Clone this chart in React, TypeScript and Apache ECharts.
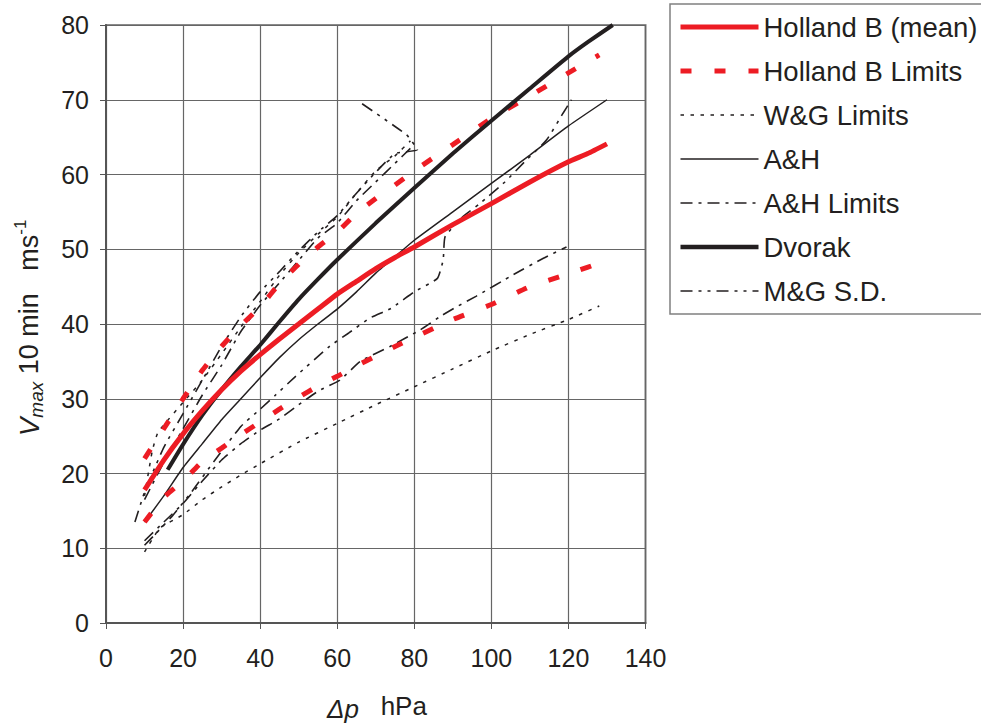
import React, { useEffect, useRef } from 'react';
import * as echarts from 'echarts';

// ---------- data (Δp hPa, Vmax m/s) ----------
const hollandMean: number[][] = [
  [10, 17.8], [15, 21.8], [20, 25.3], [25, 28.4], [30, 31.2], [35, 33.7], [40, 35.9],
  [45, 38], [50, 40], [55, 42], [60, 44], [65, 45.7], [70, 47.4], [75, 48.9], [80, 50.3],
  [90, 53.3], [100, 56.1], [110, 59], [120, 61.7], [125, 62.8], [130, 64.1],
];
const hollandUpper: number[][] = [
  [10, 22], [15, 26], [20, 30], [25, 33.8], [30, 37], [35, 39.8], [40, 42.3], [45, 45.4],
  [50, 48], [55, 50.3], [60, 52.3], [65, 54.8], [70, 56.8], [75, 58.6], [80, 60.5],
  [90, 64], [100, 67.5], [110, 70.5], [120, 73.6], [128, 76],
];
const hollandLower: number[][] = [
  [10, 13.5], [15, 16.8], [20, 19], [25, 21.6], [30, 23.4], [35, 25.2], [40, 26.9],
  [45, 28.6], [50, 30.2], [55, 31.7], [60, 33], [65, 34.4], [70, 35.7], [75, 37], [80, 38.2],
  [90, 40.6], [100, 42.6], [110, 45], [120, 46.7], [130, 48.5],
];
const wgUpper: number[][] = [
  [10, 17], [12, 23], [13.5, 25.5], [20, 29.5], [25, 32.5], [30, 36], [35, 39.6], [40, 43],
  [45, 46.5], [50, 49.5], [55, 52], [60, 54.3], [65, 57.5], [70, 60.5], [75, 62.5], [79, 64.5],
];
const wgLower: number[][] = [
  [10, 9.5], [14, 12.7], [20, 14.5], [25, 16.5], [30, 18.2], [35, 19.8], [40, 21.3],
  [50, 24.2], [60, 26.7], [70, 29.2], [80, 31.6], [90, 34], [100, 36.4], [110, 38.6],
  [120, 40.6], [128, 42.4],
];
const ahMean: number[][] = [
  [10, 13.5], [15, 17], [20, 20.8], [25, 24], [30, 27.2], [35, 30], [40, 32.8], [45, 35.5],
  [50, 37.9], [55, 40], [60, 42], [65, 44.3], [70, 46.8], [75, 49], [80, 51.2], [90, 55],
  [100, 58.8], [110, 62.6], [120, 66.5], [130, 70],
];
const ahUpper: number[][] = [
  [10, 16.5], [15, 21.5], [20, 26], [25, 30.5], [30, 34.5], [35, 39], [40, 42.5], [45, 45.5],
  [50, 48.5], [55, 51.5], [60, 53.5], [65, 56.5], [70, 59], [75, 61.5], [79, 63.5],
];
const ahLower: number[][] = [
  [10, 11], [15, 13.5], [20, 16], [25, 19], [30, 21.8], [35, 24], [40, 25.8], [45, 27.3],
  [50, 29.2], [55, 31], [60.7, 32.5], [66, 35], [73.7, 37], [81.5, 39.2], [87, 41.1],
  [91, 42.3], [96, 43.7], [105.7, 46.6], [113.5, 48.8], [119.5, 50.3],
];
const dvorak: number[][] = [
  [16, 20.5], [20, 23.9], [25, 27.8], [30, 31.2], [35, 34.3], [40, 37.2], [45, 40.3],
  [50, 43.3], [55, 46], [60, 48.6], [70, 53.5], [80, 58.2], [90, 62.8], [100, 67.2],
  [110, 71.5], [120, 75.8], [125, 77.7], [131.5, 80],
];
const mgUpper: number[][] = [
  [7.5, 13.5], [10, 17.5], [15, 23.5], [20, 28], [25, 32.5], [30, 37], [35, 41], [40, 44.3],
  [45, 47], [50, 49.8], [55, 52.3], [60, 54.5], [65, 57.5], [70, 60.3], [75, 62.8],
  [80.8, 63.3], [78, 65.3], [65.5, 69.8],
];
const mgLower: number[][] = [
  [10, 10.4], [13, 12], [17, 14.2], [22, 17.4], [28, 21.6], [35, 26.3], [40, 28.6], [44, 30.5],
  [49, 32.9], [58, 37], [63, 38.8], [68.5, 40.8], [74, 42.1], [80, 44.3], [86, 46.1],
  [87.5, 48.6], [88, 51.7], [92.7, 54.4], [97, 56.1], [103.5, 59], [109, 61.9],
  [114.3, 64.6], [118.6, 68.2], [120.8, 70],
];

const legendNames = [
  'Holland B (mean)', 'Holland B Limits', 'W&G Limits', 'A&H', 'A&H Limits', 'Dvorak', 'M&G S.D.',
];

const RED = '#ed1c24';
const BLK = '#231f20';
const FONT = '"Liberation Sans", Arial, sans-serif';

const hbDash = [11, 23];
const wgDash = [3.5, 6.5];
const ahDash = [12, 6, 3, 6];
const mgDash = [12, 6, 3, 6, 3, 6];

const legendStyles: Record<string, any> = {
  'Holland B (mean)': { color: RED, width: 5, type: 'solid' },
  'Holland B Limits': { color: RED, width: 5, type: hbDash },
  'W&G Limits': { color: BLK, width: 1.5, type: wgDash },
  'A&H': { color: BLK, width: 1.6, type: 'solid' },
  'A&H Limits': { color: BLK, width: 1.6, type: ahDash },
  'Dvorak': { color: BLK, width: 4.5, type: 'solid' },
  'M&G S.D.': { color: BLK, width: 1.6, type: mgDash },
};

function mk(name: string, data: number[][], color: string, width: number, type: any) {
  return {
    name,
    type: 'line',
    data,
    symbol: 'none',
    showSymbol: false,
    smooth: 0.15,
    lineStyle: { color, width, type },
    itemStyle: { color },
    z: 3,
  };
}

export default function App() {
  const ref = useRef<HTMLDivElement>(null);
  useEffect(() => {
    document.body.style.margin = '0';
    const chart = echarts.init(ref.current!, undefined, { renderer: 'svg' });
    chart.setOption({
      animation: false,
      backgroundColor: '#ffffff',
      grid: {
        left: 106, top: 25, width: 539.5, height: 598,
        show: true, borderColor: '#8a8a8a', borderWidth: 2,
      },
      xAxis: {
        type: 'value', min: 0, max: 140, interval: 20,
        axisLine: { show: true, onZero: false, lineStyle: { color: '#555', width: 2 } },
        axisTick: { show: true, length: 6, lineStyle: { color: '#555' } },
        axisLabel: { fontSize: 25, color: BLK, fontFamily: FONT, margin: 22 },
        splitLine: { show: true, lineStyle: { color: '#666', width: 1.2 } },
      },
      yAxis: {
        type: 'value', min: 0, max: 80, interval: 10,
        axisLine: { show: true, onZero: false, lineStyle: { color: '#555', width: 2 } },
        axisTick: { show: true, length: 6, lineStyle: { color: '#555' } },
        axisLabel: { fontSize: 25, color: BLK, fontFamily: FONT, margin: 17 },
        splitLine: { show: true, lineStyle: { color: '#666', width: 1.2 } },
      },
      legend: {
        orient: 'vertical', left: 670, top: 4,
        itemWidth: 78, itemHeight: 22, itemGap: 16,
        padding: [9, 10, 9, 8],
        borderColor: '#808080', borderWidth: 1.5,
        backgroundColor: '#fff',
        textStyle: { fontSize: 27.5, lineHeight: 27, color: BLK, fontFamily: FONT },
        itemStyle: { opacity: 0 },
        data: legendNames.map((n) => ({ name: n, lineStyle: legendStyles[n] })),
      },
      graphic: [
        {
          type: 'text', x: 29, y: 328, rotation: Math.PI / 2,
          style: {
            text: '{v|V}{s|max}{n| 10 min   ms}{p|-1}',
            align: 'center', verticalAlign: 'middle',
            rich: {
              v: { fontSize: 28, fontStyle: 'italic', fontFamily: FONT, fill: BLK, lineHeight: 34 },
              s: { fontSize: 19, fontStyle: 'italic', fontFamily: FONT, fill: BLK, lineHeight: 22, verticalAlign: 'bottom' },
              n: { fontSize: 27, fontFamily: FONT, fill: BLK, lineHeight: 34 },
              p: { fontSize: 17, fontFamily: FONT, fill: BLK, lineHeight: 20, verticalAlign: 'top' },
            },
          },
        },
        {
          type: 'text', x: 377, y: 706,
          style: {
            text: '{d|Δp}{n|   hPa}',
            align: 'center', verticalAlign: 'middle',
            rich: {
              d: { fontSize: 26, fontStyle: 'italic', fontFamily: FONT, fill: BLK, lineHeight: 32, verticalAlign: 'bottom' },
              n: { fontSize: 26, fontFamily: FONT, fill: BLK, lineHeight: 32 },
            },
          },
        },
      ],
      series: [
        mk('W&G Limits', wgUpper, BLK, 1.5, wgDash),
        mk('W&G Limits', wgLower, BLK, 1.5, wgDash),
        mk('A&H Limits', ahUpper, BLK, 1.6, ahDash),
        mk('A&H Limits', ahLower, BLK, 1.6, ahDash),
        mk('M&G S.D.', mgUpper, BLK, 1.6, mgDash),
        mk('M&G S.D.', mgLower, BLK, 1.6, mgDash),
        mk('A&H', ahMean, BLK, 1.5, 'solid'),
        mk('Holland B Limits', hollandUpper, RED, 5, hbDash),
        mk('Holland B Limits', hollandLower, RED, 5, hbDash),
        mk('Dvorak', dvorak, BLK, 4, 'solid'),
        mk('Holland B (mean)', hollandMean, RED, 5, 'solid'),
      ],
    });
    return () => chart.dispose();
  }, []);
  return <div ref={ref} style={{ width: 981, height: 726 }} />;
}
